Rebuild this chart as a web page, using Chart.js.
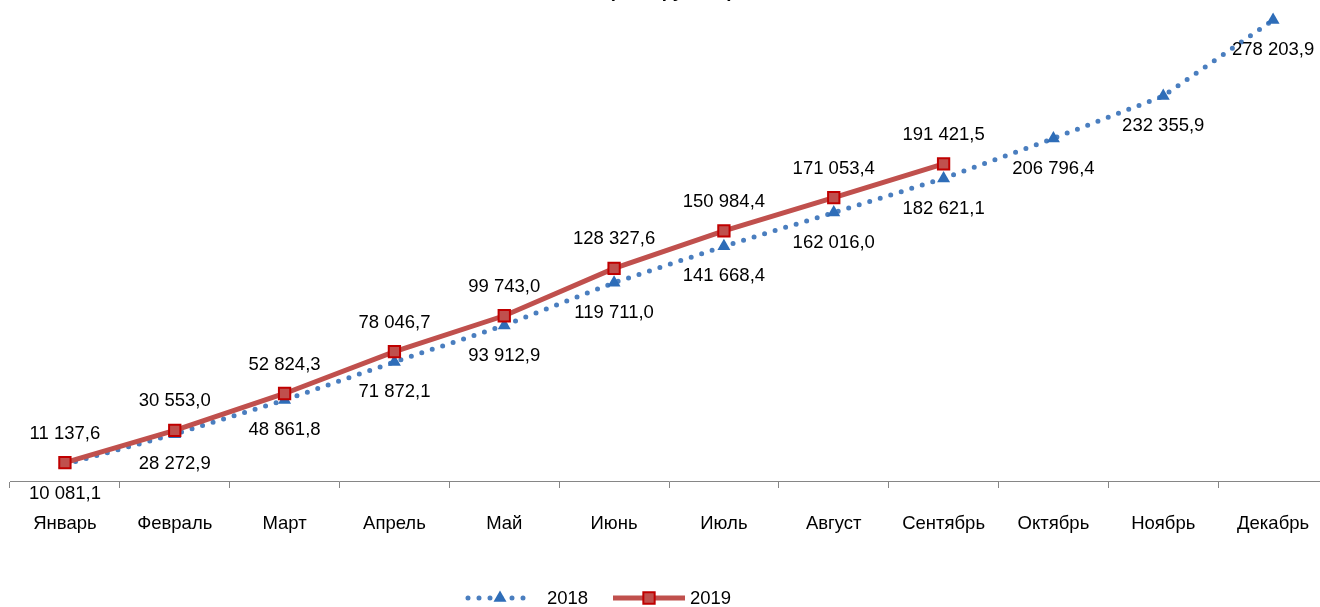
<!DOCTYPE html>
<html>
<head>
<meta charset="utf-8">
<script src="https://cdn.jsdelivr.net/npm/chart.js@4/dist/chart.umd.min.js"></script>
<style>
  html, body { margin: 0; padding: 0; background: #fff; overflow: hidden; }
  #wrap { position: absolute; top: -60px; left: 0; width: 1338px; height: 700px; }
</style>
</head>
<body>
<div id="wrap"><canvas id="chart"></canvas></div>
<script>
// Data
const months = ['Январь', 'Февраль', 'Март', 'Апрель', 'Май', 'Июнь', 'Июль', 'Август', 'Сентябрь', 'Октябрь', 'Ноябрь', 'Декабрь'];
const values2018 = [10081.1, 28272.9, 48861.8, 71872.1, 93912.9, 119711.0, 141668.4, 162016.0, 182621.1, 206796.4, 232355.9, 278203.9];
const values2019 = [11137.6, 30553.0, 52824.3, 78046.7, 99743.0, 128327.6, 150984.4, 171053.4, 191421.5, null, null, null];
const seriesNames = ['2018', '2019'];
const titleText = '(млн. рублей)';

const FONT = 'Arial, "Liberation Sans", sans-serif';
const FSIZE = 18.5;

// "10 081,1" style numbers
function fmt(v) {
  const parts = v.toFixed(1).split('.');
  const int = parts[0].replace(/\B(?=(\d{3})+(?!\d))/g, ' ');
  return int + ',' + parts[1];
}

// Value labels: 2018 below the point, 2019 above
const valueLabels = {
  id: 'valueLabels',
  afterDatasetsDraw(chart) {
    const ctx = chart.ctx;
    ctx.save();
    ctx.font = FSIZE + 'px ' + FONT;
    ctx.fillStyle = '#000';
    ctx.textAlign = 'center';
    ctx.textBaseline = 'middle';
    chart.data.datasets.forEach((ds, i) => {
      const meta = chart.getDatasetMeta(i);
      const dy = ds.label === '2018' ? 30 : -29;
      meta.data.forEach((pt, j) => {
        const v = ds.data[j];
        if (v == null) return;
        ctx.fillText(fmt(v), pt.x, pt.y + dy);
      });
    });
    ctx.restore();
  }
};

// Title (mostly cut off at the top) and legend with line samples
const extras = {
  id: 'extras',
  afterDraw(chart) {
    const ctx = chart.ctx;
    ctx.save();
    ctx.font = 'bold ' + FSIZE + 'px ' + FONT;
    ctx.fillStyle = '#000';
    ctx.textAlign = 'center';
    ctx.textBaseline = 'alphabetic';
    ctx.fillText(titleText, 671, 56.5);

    const ly = 658;
    const items = [
      { ds: chart.data.datasets[0], x0: 468, x1: 532, tx: 547 },
      { ds: chart.data.datasets[1], x0: 613, x1: 685, tx: 690 }
    ];
    items.forEach(it => {
      const ds = it.ds;
      const cx = (it.x0 + it.x1) / 2;
      ctx.beginPath();
      ctx.strokeStyle = ds.borderColor;
      ctx.lineWidth = ds.borderWidth;
      ctx.lineCap = ds.borderCapStyle || 'butt';
      ctx.setLineDash(ds.borderDash || []);
      ctx.moveTo(it.x0, ly);
      ctx.lineTo(it.x1, ly);
      ctx.stroke();
      ctx.setLineDash([]);
      ctx.fillStyle = ds.pointBackgroundColor;
      ctx.strokeStyle = ds.pointBorderColor;
      ctx.lineWidth = ds.pointBorderWidth;
      ctx.beginPath();
      const r = ds.pointRadius;
      if (ds.pointStyle === 'rect') {
        const s = Math.SQRT1_2 * r;
        ctx.rect(cx - s, ly - s, 2 * s, 2 * s);
      } else {
        const h = r * 0.866;
        ctx.moveTo(cx, ly - r);
        ctx.lineTo(cx + h, ly + r / 2);
        ctx.lineTo(cx - h, ly + r / 2);
        ctx.closePath();
      }
      ctx.fill();
      if (ds.pointBorderWidth) ctx.stroke();
      ctx.font = FSIZE + 'px ' + FONT;
      ctx.fillStyle = '#000';
      ctx.textAlign = 'left';
      ctx.textBaseline = 'middle';
      ctx.fillText(ds.label, it.tx, ly + 1);
    });
    ctx.restore();
  }
};

const ctx = document.getElementById('chart').getContext('2d');
new Chart(ctx, {
  type: 'line',
  data: {
    labels: months,
    datasets: [
      {
        label: seriesNames[0],
        data: values2018,
        order: 1,
        borderColor: '#4A7EBF',
        borderWidth: 5,
        borderDash: [0, 11],
        borderCapStyle: 'round',
        pointStyle: 'triangle',
        pointRadius: 7.5,
        pointBackgroundColor: '#2E6DB8',
        pointBorderColor: '#2E6DB8',
        pointBorderWidth: 0,
        tension: 0,
        fill: false
      },
      {
        label: seriesNames[1],
        data: values2019,
        order: 0,
        borderColor: '#C0504D',
        borderWidth: 5,
        pointStyle: 'rect',
        pointRadius: 8,
        pointBackgroundColor: '#C0504D',
        pointBorderColor: '#C00000',
        pointBorderWidth: 2,
        tension: 0,
        fill: false,
        spanGaps: false
      }
    ]
  },
  options: {
    responsive: true,
    maintainAspectRatio: false,
    animation: false,
    devicePixelRatio: 1,
    layout: { padding: { top: 44, bottom: 89, left: 10, right: 3 } },
    plugins: {
      legend: { display: false },
      tooltip: { enabled: false },
      title: { display: false }
    },
    scales: {
      x: {
        offset: true,
        grid: {
          offset: true,
          drawOnChartArea: false,
          drawTicks: true,
          tickLength: 7,
          color: '#868686'
        },
        border: { display: true, color: '#868686', width: 1 },
        ticks: {
          color: '#000',
          font: { family: FONT, size: FSIZE },
          padding: 25,
          maxRotation: 0,
          autoSkip: false
        },
        afterFit(scale) { scale.height = 70; }
      },
      y: {
        display: false,
        min: 0,
        max: 300000
      }
    }
  },
  plugins: [valueLabels, extras]
});
</script>
</body>
</html>
